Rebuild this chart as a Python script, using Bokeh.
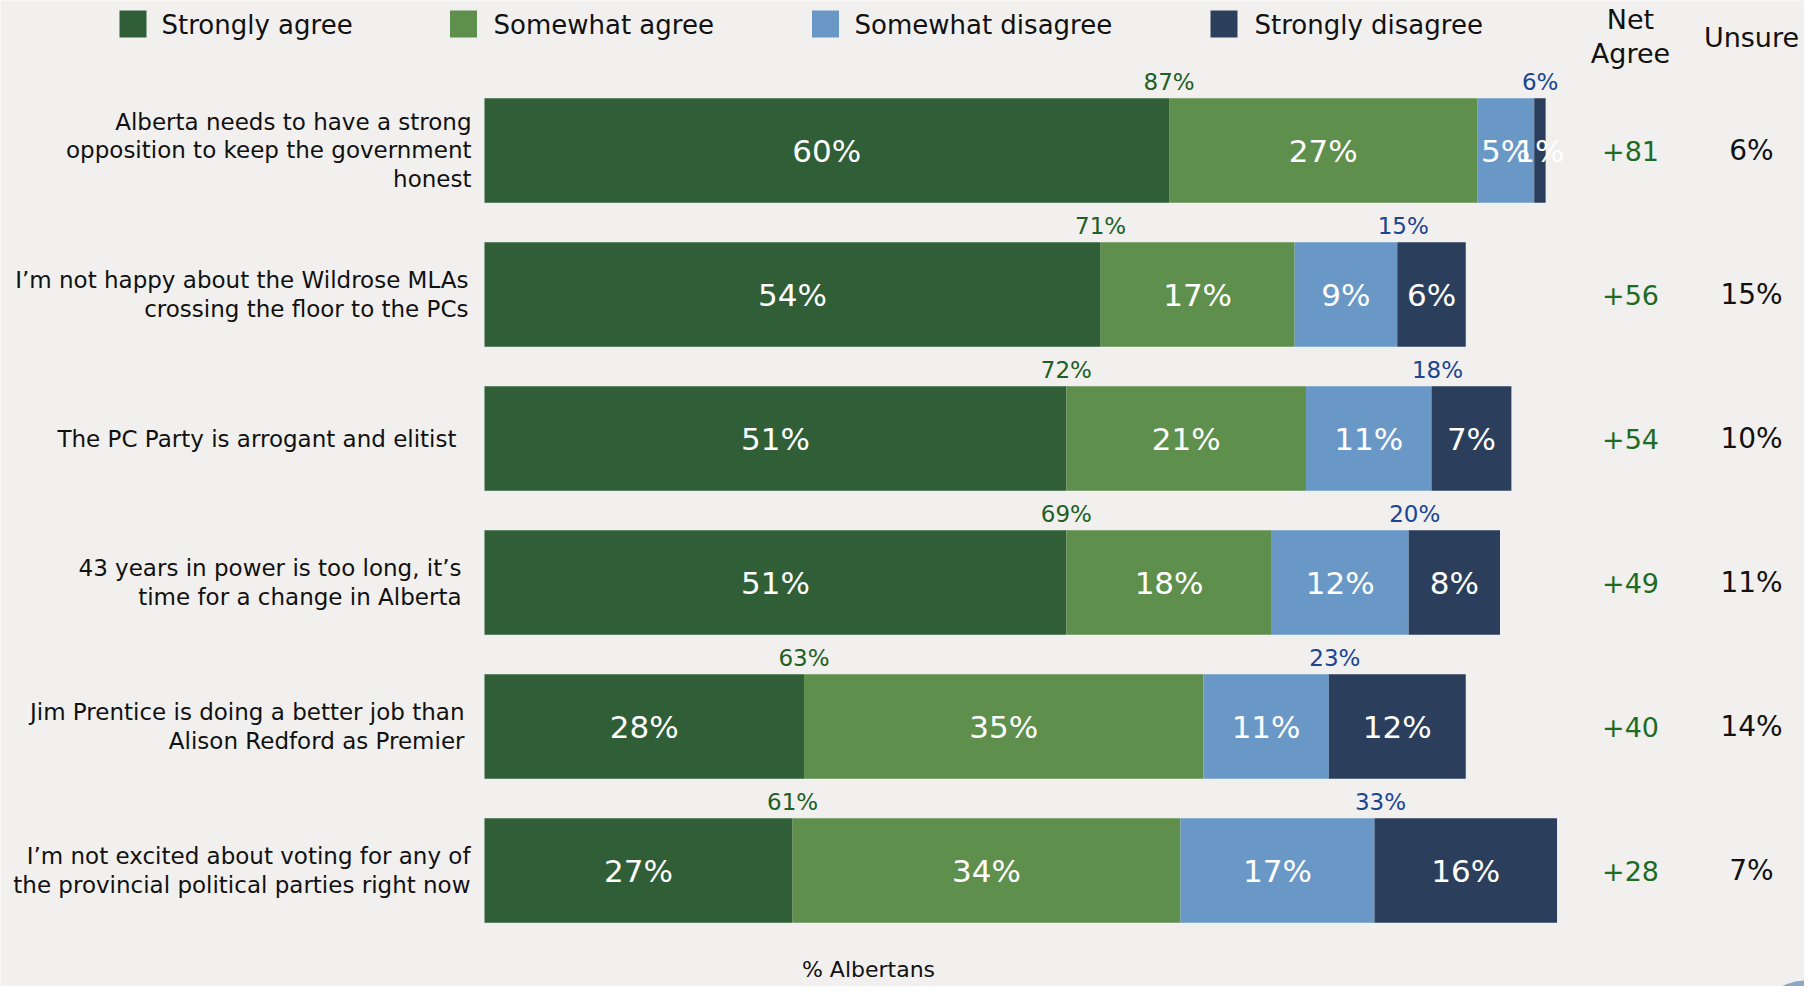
import numpy as np
from bokeh.plotting import figure
from bokeh.models import ColumnDataSource, Range1d
from bokeh.core.properties import value
from bokeh.embed import file_html
from bokeh.resources import INLINE

# ---------------- data ----------------
statements = [
    "Alberta needs to have a strong\nopposition to keep the government\nhonest",
    "I\u2019m not happy about the Wildrose MLAs\ncrossing the floor to the PCs",
    "The PC Party is arrogant and elitist",
    "43 years in power is too long, it\u2019s\ntime for a change in Alberta",
    "Jim Prentice is doing a better job than\nAlison Redford as Premier",
    "I\u2019m not excited about voting for any of\nthe provincial political parties right now",
]
series_names = ["Strongly agree", "Somewhat agree", "Somewhat disagree", "Strongly disagree"]
strongly_agree = [60, 54, 51, 51, 28, 27]
somewhat_agree = [27, 17, 21, 18, 35, 34]
somewhat_disagree = [5, 9, 11, 12, 11, 17]
strongly_disagree = [1, 6, 7, 8, 12, 16]
agree_total = [87, 71, 72, 69, 63, 61]
disagree_total = [6, 15, 18, 20, 23, 33]
net_agree = [81, 56, 54, 49, 40, 28]
unsure = [6, 15, 10, 11, 14, 7]
x_title = "% Albertans"

# ---------------- style / layout ----------------
colors = ["#2f5e37", "#5f8f4c", "#6a98c6", "#2b3f5d"]
BG = "#f1f0ee"
FONT = value("DejaVu Sans")
W, H = 1804, 986
PX = 11.41                 # pixels per percent
ROW0, ROWSTEP = 150, 144   # pixel centre of first row and row spacing
ZERO = 484                 # pixel x of 0%
label_right_px = [471, 468, 456, 461, 464, 470]   # right edge of each statement label

def X(sx):
    return (sx - ZERO) / PX

def Y(sy):
    return (sy - ROW0) / ROWSTEP

p = figure(width=W, height=H, output_backend="svg", toolbar_location=None,
           x_range=Range1d(X(0), X(W)), y_range=Range1d(Y(H), Y(0)),
           x_axis_location=None, y_axis_location=None, min_border=0,
           background_fill_color=BG, border_fill_color=BG, outline_line_color=None)
p.grid.visible = False

n = len(statements)
rows = list(range(n))
vals = np.array([strongly_agree, somewhat_agree, somewhat_disagree, strongly_disagree], dtype=float)
rights = np.cumsum(vals, axis=0)
lefts = rights - vals

# bars
for k in range(4):
    src = ColumnDataSource(dict(y=rows, left=lefts[k], right=rights[k]))
    p.hbar(y="y", left="left", right="right", height=104.5 / ROWSTEP, source=src,
           fill_color=colors[k], line_color=None)

# inner labels
for k in range(4):
    src = ColumnDataSource(dict(x=(lefts[k] + rights[k]) / 2, y=rows,
                                t=[f"{int(v)}%" for v in vals[k]]))
    p.text(x="x", y="y", text="t", source=src, text_color="white", text_font=FONT,
           text_font_size="31px", text_align="center", text_baseline="middle")

# totals above bars
top_y = [r - 69 / ROWSTEP for r in rows]
src = ColumnDataSource(dict(x=rights[0], y=top_y, t=[f"{v}%" for v in agree_total]))
p.text(x="x", y="y", text="t", source=src, text_color="#1f5e25", text_font=FONT,
       text_font_size="23px", text_align="center", text_baseline="middle")
src = ColumnDataSource(dict(x=rights[2], y=top_y, t=[f"{v}%" for v in disagree_total]))
p.text(x="x", y="y", text="t", source=src, text_color="#1b4591", text_font=FONT,
       text_font_size="23px", text_align="center", text_baseline="middle", x_offset=6)

# net agree & unsure columns
src = ColumnDataSource(dict(x=[X(1630)] * n, y=rows, t=[f"+{v}" for v in net_agree]))
p.text(x="x", y="y", text="t", source=src, text_color="#1e6b26", text_font=FONT,
       text_font_size="27px", text_align="center", text_baseline="middle")
src = ColumnDataSource(dict(x=[X(1751)] * n, y=rows, t=[f"{v}%" for v in unsure]))
p.text(x="x", y="y", text="t", source=src, text_color="#111111", text_font=FONT,
       text_font_size="28px", text_align="center", text_baseline="middle")

# column headers
p.text(x=[X(1630), X(1630), X(1751)], y=[Y(19), Y(53), Y(36.5)], text=["Net", "Agree", "Unsure"],
       text_color="#111111", text_font=FONT, text_font_size="27px",
       text_align="center", text_baseline="middle")

# statement labels
src = ColumnDataSource(dict(x=[X(r) for r in label_right_px], y=rows, t=statements))
p.text(x="x", y="y", text="t", source=src, text_color="#111111", text_font=FONT,
       text_font_size="23px", text_align="right", text_baseline="middle",
       text_line_height=1.08)

# legend (manual, one row across the top)
leg_sq = [132.5, 463, 825, 1223.5]
leg_tx = [161, 493, 854, 1254]
p.rect(x=[X(s) for s in leg_sq], y=[Y(23.5)] * 4, width=27, height=27,
       width_units="screen", height_units="screen", fill_color=colors, line_color=None)
p.text(x=[X(s) for s in leg_tx], y=[Y(24)] * 4, text=series_names, text_color="#111111",
       text_font=FONT, text_font_size="26px", text_align="left", text_baseline="middle")

# axis title
p.text(x=[X(868)], y=[Y(969)], text=[x_title], text_color="#111111", text_font=FONT,
       text_font_size="22px", text_align="center", text_baseline="middle")

# corner logo fragment
p.annulus(x=[X(1805)], y=[Y(1030)], inner_radius=38, outer_radius=50,
          inner_radius_units="screen", outer_radius_units="screen",
          fill_color="#8ba6c6", line_color=None)

open("out.html", "w").write(file_html(p, INLINE))
